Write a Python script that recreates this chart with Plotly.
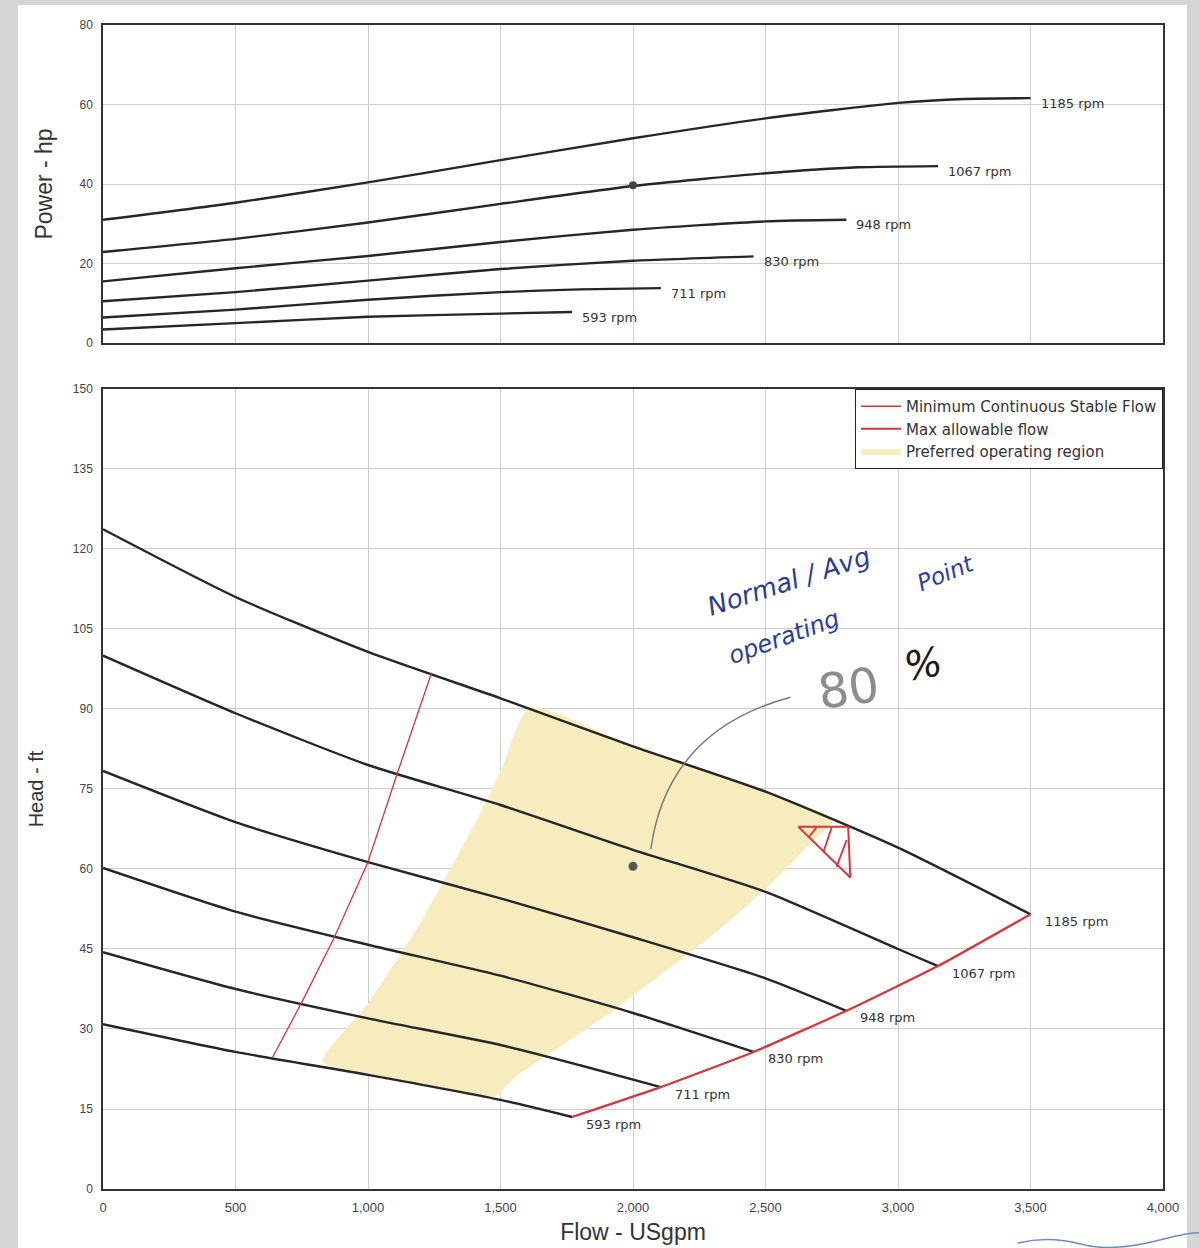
import plotly.graph_objects as go

# ---------------- data ----------------
flow_ticks = [0, 500, 1000, 1500, 2000, 2500, 3000, 3500, 4000]
power_ticks = [0, 20, 40, 60, 80]
head_ticks = [0, 15, 30, 45, 60, 75, 90, 105, 120, 135, 150]

speed_labels = ["1185 rpm", "1067 rpm", "948 rpm", "830 rpm", "711 rpm", "593 rpm"]

# head curves (flow USgpm, head ft)
q_h_1185 = [0, 500, 1000, 1500, 2000, 2500, 3000, 3500]
head_1185 = [123.7, 111.0, 100.7, 92.0, 83.0, 74.5, 64.0, 51.5]
q_h_1067 = [0, 500, 1000, 1500, 2000, 2500, 3000, 3151]
head_1067 = [100.0, 89.2, 79.5, 72.0, 63.6, 55.7, 45.0, 41.8]
q_h_948 = [0, 500, 1000, 1500, 2000, 2500, 2805]
head_948 = [78.4, 68.8, 61.3, 54.5, 47.2, 39.5, 33.4]
q_h_830 = [0, 500, 1000, 1500, 2000, 2455]
head_830 = [60.2, 52.0, 45.8, 40.0, 33.0, 25.7]
q_h_711 = [0, 500, 1000, 1500, 1800, 2105]
head_711 = [44.4, 37.5, 32.0, 27.0, 23.2, 19.1]
q_h_593 = [0, 500, 1000, 1500, 1770]
head_593 = [30.9, 25.7, 21.4, 16.7, 13.5]

# power curves (flow USgpm, power hp)
q_p_1185 = [0, 500, 1000, 1500, 2000, 2500, 3000, 3250, 3500]
power_1185 = [31.0, 35.3, 40.4, 46.0, 51.5, 56.5, 60.4, 61.4, 61.6]
q_p_1067 = [0, 500, 1000, 1500, 2000, 2500, 2850, 3151]
power_1067 = [22.9, 26.2, 30.3, 35.0, 39.5, 42.7, 44.2, 44.5]
q_p_948 = [0, 500, 1000, 1500, 2000, 2500, 2805]
power_948 = [15.5, 18.8, 21.9, 25.4, 28.5, 30.6, 31.0]
q_p_830 = [0, 500, 1000, 1500, 2000, 2455]
power_830 = [10.5, 12.8, 15.7, 18.6, 20.7, 21.8]
q_p_711 = [0, 500, 1000, 1500, 1800, 2105]
power_711 = [6.4, 8.4, 10.9, 12.8, 13.5, 13.8]
q_p_593 = [0, 500, 1000, 1500, 1770]
power_593 = [3.4, 5.0, 6.6, 7.4, 7.8]

# minimum continuous stable flow line
mcsf_q = [640, 749, 873, 1000, 1111, 1240]
mcsf_h = [24.7, 34.9, 47.2, 61.3, 78.0, 96.8]

# max allowable flow line (through the end of each speed curve)
maf_q = [1770, 2105, 2455, 2805, 3151, 3500]
maf_h = [13.5, 19.1, 25.7, 33.4, 41.8, 51.5]

# preferred operating region boundary
por_q = [828, 1000, 1200, 1400, 1500, 1610, 2000, 2500, 2750,
         2650, 2500, 2300, 2100, 1900, 1700, 1560, 1470, 1200, 1000, 828]
por_h = [23.9, 34.8, 50.1, 68.2, 78.3, 90.2, 83.0, 74.5, 69.2,
         63.8, 56.2, 47.6, 40.0, 32.6, 25.8, 21.2, 17.1, 19.6, 21.4, 23.9]

# operating point
op_flow = 2000
op_head = 60.5
op_power = 39.7

# hand-drawn warning triangle and hatching
tri_q = [2624, 2812, 2820, 2624]
tri_h = [67.9, 67.9, 58.4, 67.9]
hatch_q = [2693, 2662, None, 2750, 2718, None, 2806, 2768]
hatch_h = [67.8, 65.9, None, 67.8, 63.1, None, 65.4, 60.4]

head_curves = [(q_h_1185, head_1185), (q_h_1067, head_1067), (q_h_948, head_948),
               (q_h_830, head_830), (q_h_711, head_711), (q_h_593, head_593)]
power_curves = [(q_p_1185, power_1185), (q_p_1067, power_1067), (q_p_948, power_948),
                (q_p_830, power_830), (q_p_711, power_711), (q_p_593, power_593)]

# ---------------- styling ----------------
FONT = "Liberation Sans, Arial, sans-serif"
WIDE = "DejaVu Sans, Verdana, sans-serif"
CURVE = "#262626"
RED = "#d8343c"
YELLOW = "#f7ecbd"
GRID = "#cfcfcf"
AXIS = "#333333"
INK = "#2b3d9c"
HAND = "DejaVu Sans"

fig = go.Figure()

# preferred operating region
fig.add_trace(go.Scatter(
    x=por_q, y=por_h, xaxis="x2", yaxis="y2", mode="lines", fill="toself",
    fillcolor=YELLOW, line=dict(color=YELLOW, width=0, shape="spline", smoothing=0.6),
    name="Preferred operating region", legendrank=3, hoverinfo="skip"))

# speed curves
for (q, h), lab in zip(head_curves, speed_labels):
    fig.add_trace(go.Scatter(
        x=q, y=h, xaxis="x2", yaxis="y2", mode="lines", showlegend=False,
        line=dict(color=CURVE, width=2.4, shape="spline", smoothing=0.6), name=lab))
for (q, p), lab in zip(power_curves, speed_labels):
    fig.add_trace(go.Scatter(
        x=q, y=p, xaxis="x", yaxis="y", mode="lines", showlegend=False,
        line=dict(color=CURVE, width=2.4, shape="spline", smoothing=0.6), name=lab))

# limit lines
fig.add_trace(go.Scatter(
    x=mcsf_q, y=mcsf_h, xaxis="x2", yaxis="y2", mode="lines",
    line=dict(color=RED, width=1.3), name="Minimum Continuous Stable Flow", legendrank=1))
fig.add_trace(go.Scatter(
    x=maf_q, y=maf_h, xaxis="x2", yaxis="y2", mode="lines",
    line=dict(color=RED, width=2.2, shape="spline", smoothing=0.4),
    name="Max allowable flow", legendrank=2))

# hand-drawn triangle
fig.add_trace(go.Scatter(
    x=tri_q, y=tri_h, xaxis="x2", yaxis="y2", mode="lines", showlegend=False,
    line=dict(color=RED, width=2), hoverinfo="skip"))
fig.add_trace(go.Scatter(
    x=hatch_q, y=hatch_h, xaxis="x2", yaxis="y2", mode="lines", showlegend=False,
    line=dict(color=RED, width=1.8), hoverinfo="skip", connectgaps=False))

# operating point markers
fig.add_trace(go.Scatter(
    x=[op_flow], y=[op_head], xaxis="x2", yaxis="y2", mode="markers", showlegend=False,
    marker=dict(color="#555555", size=9, symbol="circle")))
fig.add_trace(go.Scatter(
    x=[op_flow], y=[op_power], xaxis="x", yaxis="y", mode="markers", showlegend=False,
    marker=dict(color="#444444", size=8, symbol="circle")))

annotations = []
# speed labels at curve ends
for (q, h), lab in zip(head_curves, speed_labels):
    annotations.append(dict(x=q[-1], y=h[-1], xref="x2", yref="y2", text=lab,
                            showarrow=False, xanchor="left", yanchor="middle",
                            xshift=12, yshift=-7,
                            font=dict(size=13, color="#333333", family=WIDE)))
for (q, p), lab in zip(power_curves, speed_labels):
    annotations.append(dict(x=q[-1], y=p[-1], xref="x", yref="y", text=lab,
                            showarrow=False, xanchor="left", yanchor="middle",
                            xshift=8, yshift=-5,
                            font=dict(size=13, color="#333333", family=WIDE)))

# handwritten notes
annotations += [
    dict(x=2590, y=114.0, xref="x2", yref="y2", text="Normal / Avg", showarrow=False,
         textangle=-18, font=dict(size=26, color=INK, family=HAND, style="italic")),
    dict(x=3180, y=115.5, xref="x2", yref="y2", text="Point", showarrow=False,
         textangle=-22, font=dict(size=23, color=INK, family=HAND, style="italic")),
    dict(x=2570, y=103.5, xref="x2", yref="y2", text="operating", showarrow=False,
         textangle=-20, font=dict(size=24, color=INK, family=HAND, style="italic")),
    dict(x=2812, y=93.9, xref="x2", yref="y2", text="80", showarrow=False,
         textangle=-8, font=dict(size=48, color="#8c8c8c", family=HAND)),
    dict(x=3095, y=98.5, xref="x2", yref="y2", text="%", showarrow=False,
         textangle=-10, font=dict(size=40, color="#1a1a1a", family=HAND, style="italic")),
]

shapes = [
    # page sheet
    dict(type="rect", xref="paper", yref="paper", x0=-0.0802, x1=1.0226, y0=-0.06, y1=1.0172,
         fillcolor="white", line=dict(width=0), layer="below"),
    # pointer arc to operating point
    dict(type="path", xref="x2", yref="y2", path="M 2067,63.7 Q 2130,86 2594,92.2",
         line=dict(color="#7a7a7a", width=1.5)),
    # ink stroke at the page bottom
    dict(type="path", xref="paper", yref="paper",
         path="M 0.863,-0.0464 Q 0.893,-0.040 0.922,-0.0473 T 0.997,-0.0438 T 1.034,-0.0412",
         line=dict(color="#6f8bc2", width=1.5)),
]

ax_common = dict(showgrid=True, gridcolor=GRID, gridwidth=1, zeroline=False,
                 showline=True, linecolor=AXIS, linewidth=1.5, mirror=True,
                 ticks="", ticklabelstandoff=6, automargin=False)

fig.update_layout(
    width=1199, height=1248,
    margin=dict(l=103, r=36, t=25, b=59),
    paper_bgcolor="#d6d6d6", plot_bgcolor="white",
    font=dict(family=FONT, color="#333333"),
    xaxis=dict(domain=[0, 1], anchor="y", range=[0, 4000], tickvals=flow_ticks,
               showticklabels=False, **ax_common),
    yaxis=dict(domain=[0.7268, 1], anchor="x", range=[0, 80], tickvals=power_ticks,
               tickfont=dict(size=12, color="#444444"),
               title=dict(text="Power - hp", font=dict(size=23, color="#333333"), standoff=20),
               **ax_common),
    xaxis2=dict(domain=[0, 1], anchor="y2", range=[0, 4000], tickvals=flow_ticks,
                tickformat=",d", tickfont=dict(size=13, color="#444444"),
                title=dict(text="Flow - USgpm", font=dict(size=23, color="#333333"), standoff=10),
                **ax_common),
    yaxis2=dict(domain=[0, 0.6873], anchor="x2", range=[0, 150], tickvals=head_ticks,
                tickfont=dict(size=12, color="#444444"),
                title=dict(text="Head - ft", font=dict(size=20, color="#333333"), standoff=24),
                **ax_common),
    legend=dict(x=1, xanchor="right", y=0.6873, yanchor="top", bgcolor="white",
                bordercolor="#222222", borderwidth=1,
                font=dict(size=15, color="#333333", family=WIDE),
                tracegroupgap=0, itemwidth=40),
    annotations=annotations,
    shapes=shapes,
    showlegend=True,
)

fig.write_html("out.html")
